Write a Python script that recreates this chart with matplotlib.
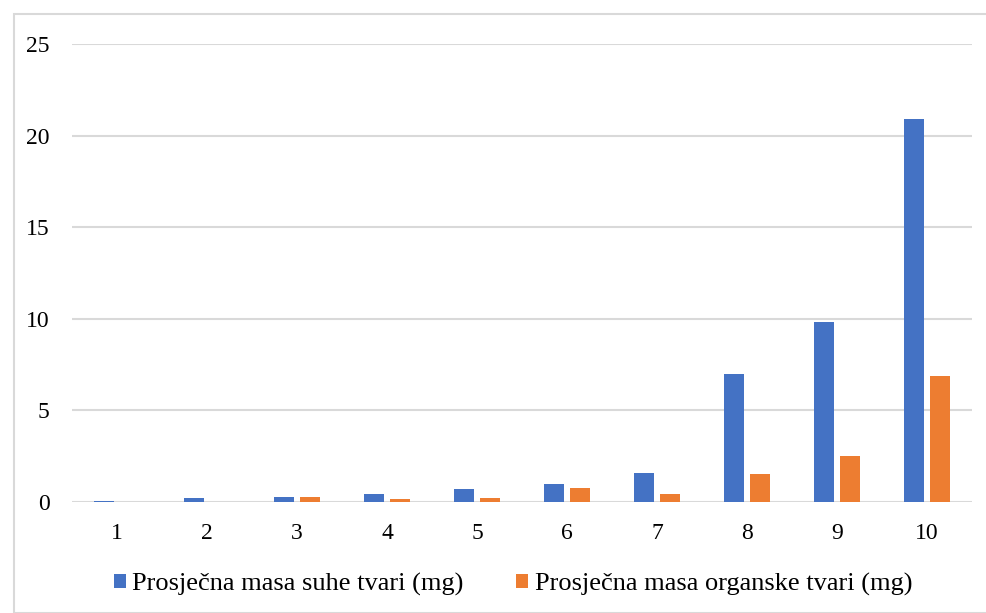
import matplotlib.pyplot as plt
import numpy as np
from matplotlib.patches import Rectangle

# data
categories = ['1', '2', '3', '4', '5', '6', '7', '8', '9', '10']
suha_tvar = [0.05, 0.2, 0.25, 0.44, 0.69, 1.0, 1.56, 7.0, 9.85, 20.9]
organska_tvar = [0.0, 0.0, 0.25, 0.15, 0.2, 0.75, 0.42, 1.52, 2.49, 6.87]

plt.rcParams['font.family'] = ['Liberation Serif', 'DejaVu Serif']

fig = plt.figure(figsize=(9.87, 6.13), dpi=100)
ax = fig.add_axes([72 / 987, 1 - 502 / 613, 900 / 987, 458 / 613])

# light chart-area border like the Excel export
fig.patches.append(Rectangle((14 / 987, 0), 1.0, 1 - 14 / 613, transform=fig.transFigure,
                             fill=False, edgecolor='#d9d9d9', linewidth=1.5))

x = np.arange(1, len(categories) + 1)
w = 0.22
off = 0.145
ax.bar(x - off, suha_tvar, w, color='#4472C4', label='Prosječna masa suhe tvari (mg)', zorder=3)
ax.bar(x + off, organska_tvar, w, color='#ED7D31', label='Prosječna masa organske tvari (mg)', zorder=3)

ax.set_xlim(0.5, 10.5)
ax.set_ylim(0, 25)
ax.set_yticks([0, 5, 10, 15, 20, 25])
ax.set_xticks(x)
ax.set_xticklabels(categories)
ax.grid(axis='y', color='#d9d9d9', linewidth=1.5, zorder=0)
for s in ax.spines.values():
    s.set_visible(False)
ax.tick_params(length=0, labelsize=17, colors='black')
ax.tick_params(axis='y', pad=16)
ax.tick_params(axis='x', pad=15)

ax.legend(loc='center', bbox_to_anchor=(0.49, -0.18), ncol=2, frameon=False,
          fontsize=19, handlelength=0.45, handleheight=0.45, handletextpad=0.25,
          columnspacing=2.0)

fig.savefig('out.png', dpi=100)
